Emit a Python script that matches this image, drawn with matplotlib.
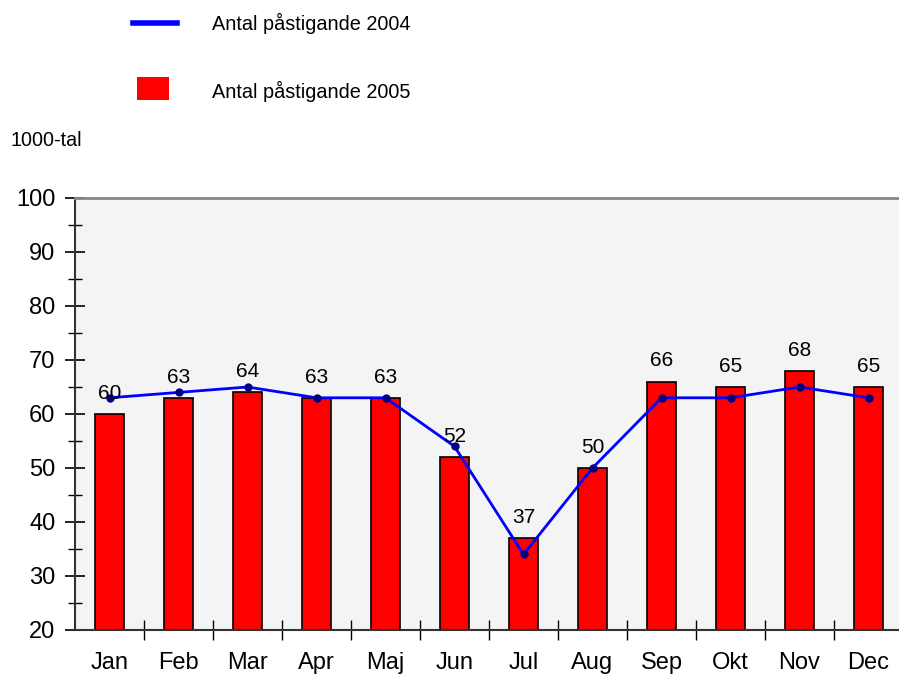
import matplotlib
matplotlib.use("Agg")
import matplotlib.pyplot as plt
from matplotlib.patches import Rectangle
from matplotlib.lines import Line2D
from matplotlib.ticker import MultipleLocator

plt.rcParams['font.family'] = ['Liberation Sans', 'DejaVu Sans']

months = ["Jan", "Feb", "Mar", "Apr", "Maj", "Jun", "Jul", "Aug", "Sep", "Okt", "Nov", "Dec"]
values_2005 = [60, 63, 64, 63, 63, 52, 37, 50, 66, 65, 68, 65]
values_2004 = [63, 64, 65, 63, 63, 54, 34, 50, 63, 63, 65, 63]
label_2004 = "Antal påstigande 2004"
label_2005 = "Antal påstigande 2005"
unit_label = "1000-tal"

W, H = 899, 675
fig = plt.figure(figsize=(W / 100, H / 100), dpi=100)
ax = fig.add_axes([75 / W, 45 / H, 828 / W, 432 / H])
ax.set_facecolor('#f4f4f4')

x = list(range(len(months)))
ax.bar(x, values_2005, width=0.41, bottom=0, color='#ff0000', edgecolor='black', linewidth=1.2, zorder=2)
ax.plot(x, values_2004, color='#0000ff', linewidth=2, zorder=3)
ax.plot(x, values_2004, linestyle='none', marker='o', markersize=5, color='#000080', zorder=4)

for xi, v in zip(x, values_2005):
    ax.annotate(str(v), (xi, v), xytext=(0, 8), textcoords='offset points',
                ha='center', va='bottom', fontsize=15, zorder=5)

ax.set_xlim(-0.5, len(months) - 0.5)
ax.set_ylim(20, 100)
ax.yaxis.set_major_locator(MultipleLocator(10))
ax.yaxis.set_minor_locator(MultipleLocator(5))
ax.tick_params(axis='y', which='major', direction='inout', length=14, width=1.2, labelsize=17, pad=7)
ax.tick_params(axis='y', which='minor', direction='inout', length=10, width=1)

ax.set_xticks([i + 0.5 for i in x[:-1]])
ax.set_xticklabels([])
ax.set_xticks(x, minor=True)
ax.set_xticklabels(months, minor=True)
ax.tick_params(axis='x', which='major', direction='inout', length=14, width=1)
ax.tick_params(axis='x', which='minor', length=0, labelsize=17, pad=16)

for s in ['left', 'bottom']:
    ax.spines[s].set_color('#333333')
    ax.spines[s].set_linewidth(1.5)
ax.spines['top'].set_color('#888888')
ax.spines['top'].set_linewidth(2)
ax.spines['right'].set_visible(False)

# legend
fig.add_artist(Line2D([133 / W, 177 / W], [1 - 23 / H, 1 - 23 / H], color='#0000ff', linewidth=4,
                      transform=fig.transFigure))
fig.add_artist(Rectangle((137 / W, 1 - 100 / H), 32 / W, 23 / H, facecolor='#ff0000',
                         edgecolor='none', transform=fig.transFigure))
fig.text(212 / W, 1 - 23 / H, label_2004, fontsize=14.3, va='center', ha='left')
fig.text(212 / W, 1 - 91 / H, label_2005, fontsize=14.3, va='center', ha='left')
fig.text(10 / W, 1 - 140 / H, unit_label, fontsize=14.2, va='center', ha='left')

fig.savefig("out.png", dpi=100)
